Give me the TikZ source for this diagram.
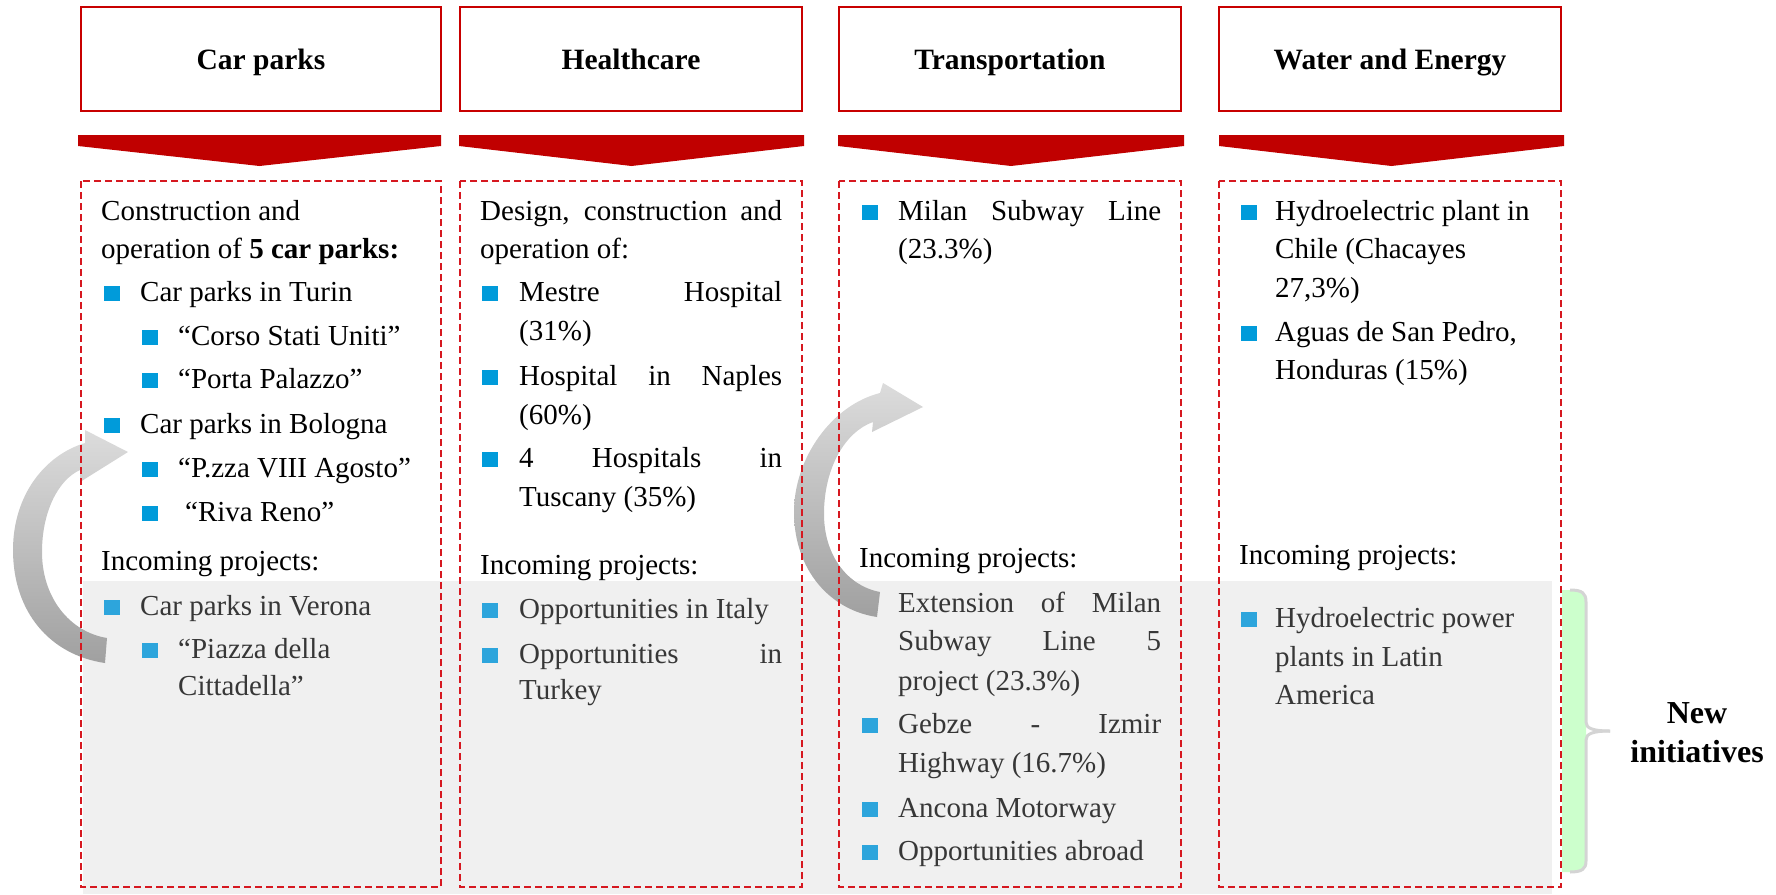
\documentclass[tikz,border=0pt]{standalone}
\usepackage{fontspec}
\setmainfont{Liberation Serif}
\definecolor{hdrred}{RGB}{200,0,0}
\definecolor{chevred}{RGB}{192,0,0}
\definecolor{dashred}{RGB}{214,24,32}
\definecolor{bulblue}{RGB}{0,155,218}
\definecolor{bulbluesoft}{RGB}{45,165,220}
\definecolor{inkgray}{RGB}{55,55,55}
\definecolor{panelgray}{RGB}{240,240,240}
\definecolor{softgreen}{RGB}{204,255,204}
\definecolor{bracegray}{RGB}{212,212,212}
\definecolor{arrlight}{RGB}{220,220,220}
\definecolor{arrdark}{RGB}{160,160,160}
\begin{document}
\begin{tikzpicture}[x=1pt,y=-1pt,
  txt/.style={anchor=base west, inner sep=0pt, font=\fontsize{29}{35}\selectfont, text=black},
  dim/.style={txt, text=inkgray},
  hdr/.style={draw=hdrred, line width=2pt, inner sep=0pt, minimum height=104pt},
  ttl/.style={anchor=base, inner sep=0pt, font=\fontsize{29.5}{35}\selectfont\bfseries},
  colbox/.style={draw=dashred, line width=1.8pt, dash pattern=on 7pt off 4pt},
  chev/.style={fill=chevred},
  bul/.style={fill=bulblue, inner sep=0pt, minimum width=16pt, minimum height=15pt},
  bulsoft/.style={bul, fill=bulbluesoft},
  bendarrow/.style={top color=arrlight, bottom color=arrdark},
]
\useasboundingbox (0,0) rectangle (1776,894);

% shaded band of incoming projects
\fill[panelgray] (83,581) rectangle (1552,894);

% green strip and brace
\fill[softgreen] (1562,590) -- (1576,590) .. controls (1584,590) and (1586,594) .. (1586,601)
  -- (1586,861) .. controls (1586,868) and (1584,872) .. (1576,872) -- (1562,872) -- cycle;
\draw[bracegray, line width=3pt] (1570,590) .. controls (1582,590) and (1586,593) .. (1586,602)
  -- (1586,722) .. controls (1586,728) and (1592,731) .. (1610,731);
\draw[bracegray, line width=3pt] (1610,731) .. controls (1592,731) and (1586,734) .. (1586,740)
  -- (1586,861) .. controls (1586,869) and (1582,872) .. (1570,872);
\node[inner sep=0pt, align=center, font=\fontsize{32}{39}\selectfont\bfseries] (newinit) at (1697,733) {New\\initiatives};

% header boxes and titles
\node[hdr, minimum width=360pt] (h1) at (261,59) {};
\node[hdr, minimum width=342pt] (h2) at (631,59) {};
\node[hdr, minimum width=342pt] (h3) at (1010,59) {};
\node[hdr, minimum width=342pt] (h4) at (1390,59) {};
\node[ttl] (t1) at (261,69) {Car parks};
\node[ttl] (t2) at (631,69) {Healthcare};
\node[ttl] (t3) at (1010,69) {Transportation};
\node[ttl] (t4) at (1390,69) {Water and Energy};

% chevrons
\fill[chev] (78,135) -- (441,135) -- (441,146) -- (259.5,166) -- (78,146) -- cycle;
\fill[chev] (459,135) -- (804,135) -- (804,146) -- (631.5,166) -- (459,146) -- cycle;
\fill[chev] (838,135) -- (1184,135) -- (1184,146) -- (1011,166) -- (838,146) -- cycle;
\fill[chev] (1219,135) -- (1564,135) -- (1564,146) -- (1391.5,166) -- (1219,146) -- cycle;

% column 1: car parks
\node[txt] (c1a) at (101,220) {Construction and};
\node[txt] (c1b) at (101,258) {operation of \textbf{5 car parks:}};
\node[bul] (c1b1) at (112,293) {};
\node[txt] (c1c) at (140,301) {Car parks in Turin};
\node[bul] (c1b2) at (150,337) {};
\node[txt] (c1d) at (178,345) {“Corso Stati Uniti”};
\node[bul] (c1b3) at (150,380) {};
\node[txt] (c1e) at (178,388) {“Porta Palazzo”};
\node[bul] (c1b4) at (112,425) {};
\node[txt] (c1f) at (140,433) {Car parks in Bologna};
\node[bul] (c1b5) at (150,469) {};
\node[txt] (c1g) at (178,477) {“P.zza VIII Agosto”};
\node[bul] (c1b6) at (150,513) {};
\node[txt] (c1h) at (185,521) {“Riva Reno”};
\node[txt] (c1i) at (101,570) {Incoming projects:};
\node[bulsoft] (c1b7) at (112,607) {};
\node[dim] (c1j) at (140,615) {Car parks in Verona};
\node[bulsoft] (c1b8) at (150,650) {};
\node[dim] (c1k) at (178,658) {“Piazza della};
\node[dim] (c1l) at (178,695) {Cittadella”};

% column 2: healthcare
\node[txt] (c2a) at (480,220) {\makebox[302pt][s]{Design, construction and}};
\node[txt] (c2b) at (480,258) {operation of:};
\node[bul] (c2b1) at (490,293) {};
\node[txt] (c2c) at (519,301) {\makebox[263pt][s]{Mestre Hospital}};
\node[txt] (c2d) at (519,340) {(31\%)};
\node[bul] (c2b2) at (490,377) {};
\node[txt] (c2e) at (519,385) {\makebox[263pt][s]{Hospital in Naples}};
\node[txt] (c2f) at (519,424) {(60\%)};
\node[bul] (c2b3) at (490,459) {};
\node[txt] (c2g) at (519,467) {\makebox[263pt][s]{4 Hospitals in}};
\node[txt] (c2h) at (519,506) {Tuscany (35\%)};
\node[txt] (c2i) at (480,574) {Incoming projects:};
\node[bulsoft] (c2b4) at (490,610) {};
\node[dim] (c2j) at (519,618) {Opportunities in Italy};
\node[bulsoft] (c2b5) at (490,655) {};
\node[dim] (c2k) at (519,663) {\makebox[263pt][s]{Opportunities in}};
\node[dim] (c2l) at (519,699) {Turkey};

% column 3: transportation
\node[bul] (c3b1) at (870,212) {};
\node[txt] (c3a) at (898,220) {\makebox[263pt][s]{Milan Subway Line}};
\node[txt] (c3b) at (898,258) {(23.3\%)};
\node[txt] (c3c) at (859,567) {Incoming projects:};
\node[dim] (c3d) at (898,612) {\makebox[263pt][s]{Extension of Milan}};
\node[dim] (c3e) at (898,650) {\makebox[263pt][s]{Subway Line 5}};
\node[dim] (c3f) at (898,690) {project (23.3\%)};
\node[bulsoft] (c3b2) at (870,725) {};
\node[dim] (c3g) at (898,733) {\makebox[263pt][s]{Gebze - Izmir}};
\node[dim] (c3h) at (898,772) {Highway (16.7\%)};
\node[bulsoft] (c3b3) at (870,809) {};
\node[dim] (c3i) at (898,817) {Ancona Motorway};
\node[bulsoft] (c3b4) at (870,852) {};
\node[dim] (c3j) at (898,860) {Opportunities abroad};

% column 4: water and energy
\node[bul] (c4b1) at (1249,212) {};
\node[txt] (c4a) at (1275,220) {Hydroelectric plant in};
\node[txt] (c4b) at (1275,258) {Chile (Chacayes};
\node[txt] (c4c) at (1275,297) {27,3\%)};
\node[bul] (c4b2) at (1249,333) {};
\node[txt] (c4d) at (1275,341) {Aguas de San Pedro,};
\node[txt] (c4e) at (1275,379) {Honduras (15\%)};
\node[txt] (c4f) at (1239,564) {Incoming projects:};
\node[bulsoft] (c4b3) at (1249,619) {};
\node[dim] (c4g) at (1275,627) {Hydroelectric power};
\node[dim] (c4h) at (1275,666) {plants in Latin};
\node[dim] (c4i) at (1275,704) {America};

% curved arrows
\shade[bendarrow] (105,663) .. controls (50,655) and (13,612) .. (13,550)
  .. controls (13,495) and (45,455) .. (85,443)
  -- (85,430) -- (128,452) -- (80,482) -- (80,470)
  .. controls (58,480) and (42,512) .. (42,552)
  .. controls (42,598) and (70,632) .. (107,638) -- cycle;
\shade[bendarrow] (877,617) .. controls (830,610) and (794,570) .. (794,512)
  .. controls (794,458) and (832,405) .. (880,393)
  -- (883,383) -- (923,407) -- (872,432) -- (873,422)
  .. controls (845,432) and (824,468) .. (824,514)
  .. controls (824,556) and (848,586) .. (880,592) -- cycle;

% dashed column frames
\draw[colbox] (81,181) rectangle (441,887);
\draw[colbox] (460,181) rectangle (802,887);
\draw[colbox] (839,181) rectangle (1181,887);
\draw[colbox] (1219,181) rectangle (1561,887);
\end{tikzpicture}
\end{document}
